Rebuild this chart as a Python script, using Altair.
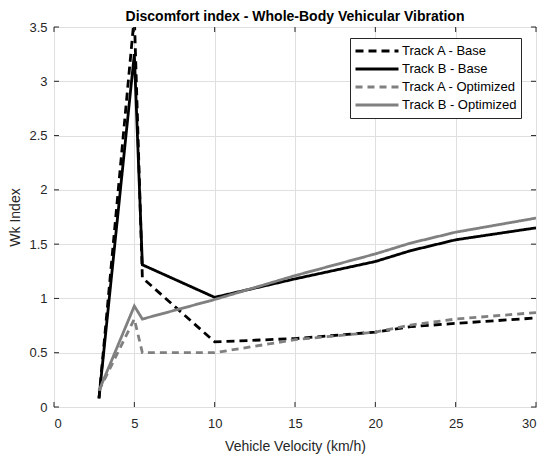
import altair as alt
import pandas as pd

# ---- data ----
velocity = [2.8, 5.0, 5.5, 10.0, 15.0, 20.0, 22.2, 25.0, 30.0]
track_a_base = [0.08, 3.60, 1.19, 0.60, 0.63, 0.69, 0.74, 0.77, 0.82]
track_b_base = [0.08, 3.25, 1.31, 1.01, 1.18, 1.34, 1.44, 1.54, 1.65]
track_a_opt = [0.15, 0.81, 0.50, 0.50, 0.62, 0.69, 0.755, 0.81, 0.87]
track_b_opt = [0.15, 0.93, 0.81, 0.99, 1.21, 1.41, 1.51, 1.61, 1.74]

series_names = ["Track A - Base", "Track B - Base",
                "Track A - Optimized", "Track B - Optimized"]
series_values = [track_a_base, track_b_base, track_a_opt, track_b_opt]

x_ticks = [0, 5, 10, 15, 20, 25, 30]
y_ticks = [0, 0.5, 1, 1.5, 2, 2.5, 3, 3.5]

rows = []
for name, vals in zip(series_names, series_values):
    for i, (v, w) in enumerate(zip(velocity, vals)):
        rows.append({"series": name, "v": v, "w": w, "idx": i})
df = pd.DataFrame(rows)

W, H = 482, 380
FONT = "Liberation Sans"
TXT = "#262626"

x_scale = alt.Scale(domain=[0, 30], nice=False)
y_scale = alt.Scale(domain=[0, 3.5], nice=False)

legend = alt.Legend(
    title=None, orient="none", legendX=296, legendY=11,
    symbolType="stroke", symbolSize=1849, clipHeight=18, rowPadding=0,
    padding=4, labelFontSize=13, labelFont=FONT, labelColor="#000000",
    strokeColor=TXT, fillColor="white", labelOffset=2, labelLimit=300,
)

lines = alt.Chart(df).mark_line(clip=True).encode(
    x=alt.X("v:Q", scale=x_scale,
            axis=alt.Axis(values=x_ticks, title="Vehicle Velocity (km/h)",
                          grid=True, ticks=False, domain=False,
                          labelPadding=10, titlePadding=9)),
    y=alt.Y("w:Q", scale=y_scale,
            axis=alt.Axis(values=y_ticks, title="Wk Index", grid=True,
                          ticks=False, domain=False, labelPadding=7,
                          titlePadding=6, labelExpr="'' + datum.value")),
    color=alt.Color("series:N",
                    scale=alt.Scale(domain=series_names,
                                    range=["#000000", "#000000", "#808080", "#808080"]),
                    legend=legend),
    strokeDash=alt.StrokeDash("series:N",
                              scale=alt.Scale(domain=series_names,
                                              range=[[8, 5], [1, 0], [7, 5], [1, 0]]),
                              legend=legend),
    strokeWidth=alt.StrokeWidth("series:N",
                                scale=alt.Scale(domain=series_names,
                                                range=[2.8, 2.8, 2.0, 2.0]),
                                legend=legend),
    order="idx:Q",
)

xt = pd.DataFrame({"v": x_ticks})
yt = pd.DataFrame({"w": y_ticks})
tick_color = TXT
bottom_ticks = alt.Chart(xt).mark_rule(color=tick_color, strokeWidth=1).encode(
    x=alt.X("v:Q", scale=x_scale), y=alt.value(H), y2=alt.value(H - 5))
top_ticks = alt.Chart(xt).mark_rule(color=tick_color, strokeWidth=1).encode(
    x=alt.X("v:Q", scale=x_scale), y=alt.value(0), y2=alt.value(5))
left_ticks = alt.Chart(yt).mark_rule(color=tick_color, strokeWidth=1).encode(
    y=alt.Y("w:Q", scale=y_scale), x=alt.value(0), x2=alt.value(5))
right_ticks = alt.Chart(yt).mark_rule(color=tick_color, strokeWidth=1).encode(
    y=alt.Y("w:Q", scale=y_scale), x=alt.value(W), x2=alt.value(W - 5))

chart = alt.layer(
    lines, bottom_ticks, top_ticks, left_ticks, right_ticks
).properties(
    width=W, height=H,
    title="Discomfort index - Whole-Body Vehicular Vibration",
    autosize=alt.AutoSizeParams(type="none"),
    padding={"left": 46, "top": 19, "right": 6, "bottom": 50},
    background="white",
).configure_view(
    stroke=TXT, strokeWidth=1
).configure_axis(
    labelFont=FONT, labelFontSize=13, labelColor=TXT,
    titleFont=FONT, titleFontSize=14, titleFontWeight="normal", titleColor=TXT,
    gridColor="#dfdfdf", gridWidth=1,
).configure_title(
    font=FONT, fontSize=14, fontWeight="bold", color="#000000",
    anchor="middle", frame="group", offset=-5, dy=-2,
)

chart.save("out.html", embed_options={"renderer": "svg", "actions": False})
